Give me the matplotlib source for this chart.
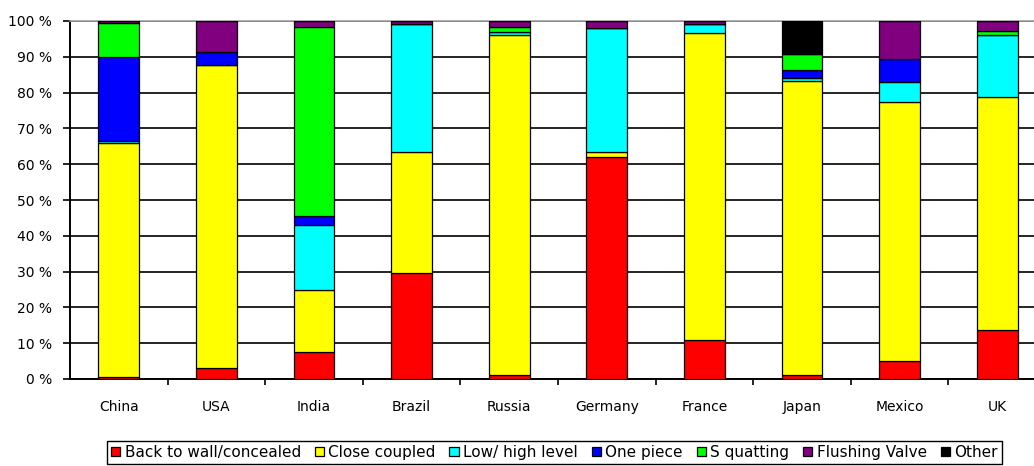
import matplotlib
matplotlib.use("Agg")
import matplotlib.pyplot as plt
import numpy as np

# Market share of WC types by country (percent of each country's total)
countries = ["China", "USA", "India", "Brazil", "Russia", "Germany",
             "France", "Japan", "Mexico", "UK"]
series_names = ["Back to wall/concealed", "Close coupled", "Low/ high level",
                "One piece", "S quatting", "Flushing Valve", "Other"]

back_to_wall = [0.6, 3.0, 7.5, 29.6, 1.2, 61.9, 10.9, 1.2, 5.1, 13.7]
close_coupled = [65.2, 84.6, 17.5, 33.7, 94.8, 1.5, 85.8, 82.0, 72.4, 65.0]
low_high_level = [0.7, 0.0, 17.9, 35.9, 0.8, 34.6, 2.6, 0.9, 5.6, 17.3]
one_piece = [23.5, 3.7, 2.6, 0.0, 0.0, 0.0, 0.0, 2.1, 6.3, 0.0]
squatting = [9.5, 0.0, 52.8, 0.0, 1.4, 0.0, 0.0, 4.6, 0.0, 1.2]
flushing_valve = [0.5, 8.7, 1.7, 0.8, 1.8, 2.0, 0.7, 0.0, 10.6, 2.8]
other = [0.0, 0.0, 0.0, 0.0, 0.0, 0.0, 0.0, 9.2, 0.0, 0.0]

series = [back_to_wall, close_coupled, low_high_level, one_piece,
          squatting, flushing_valve, other]
colors = ["#ff0000", "#ffff00", "#00ffff", "#0000ff", "#00ff00",
          "#800080", "#000000"]

plt.rcParams["font.family"] = ["DejaVu Sans"]

fig = plt.figure(figsize=(10.34, 4.66), dpi=100)
ax = fig.add_axes([70 / 1034, 87 / 466, 976 / 1034, 358 / 466])

x = np.arange(len(countries))
bottom = np.zeros(len(countries))
handles = []
for name, vals, col in zip(series_names, series, colors):
    vals = np.asarray(vals, dtype=float)
    b = ax.bar(x, vals, width=0.42, bottom=bottom, color=col,
               edgecolor="black", linewidth=0.9, label=name, zorder=3)
    handles.append(b)
    bottom += vals

ax.set_xlim(-0.5, len(countries) - 0.5)
ax.set_ylim(0, 100)

# y axis: percent ticks with black horizontal grid
yt = np.arange(0, 101, 10)
ax.set_yticks(yt)
ax.set_yticklabels([f"{v} %" for v in yt], fontsize=10)
ax.tick_params(axis="y", direction="out", length=5, width=1.2, pad=8)
ax.yaxis.grid(True, color="black", linewidth=1.2, zorder=0)
ax.set_axisbelow(True)

# x axis: labels at centres, small tick marks between categories
ax.set_xticks(x)
ax.set_xticklabels(countries, fontsize=10)
ax.tick_params(axis="x", which="major", length=0, pad=15)
ax.set_xticks(np.arange(0.5, len(countries) - 0.5, 1), minor=True)
ax.tick_params(axis="x", which="minor", direction="out", length=4, width=1.2)

ax.spines["right"].set_visible(False)
ax.spines["top"].set_color("#a0a0a0")
ax.spines["top"].set_linewidth(1.2)
ax.spines["left"].set_linewidth(1.4)
ax.spines["bottom"].set_linewidth(1.4)

leg = fig.legend(handles=handles, labels=series_names, ncol=7,
                 loc="upper left", bbox_to_anchor=(107 / 1034, 1 - 441 / 466),
                 bbox_transform=fig.transFigure, borderaxespad=0,
                 fontsize=11, handlelength=0.6, handleheight=0.6,
                 handletextpad=0.3, columnspacing=0.9, borderpad=0.25,
                 fancybox=False, framealpha=1, edgecolor="black")
leg.get_frame().set_linewidth(1.0)

fig.savefig("out.png", dpi=100)
